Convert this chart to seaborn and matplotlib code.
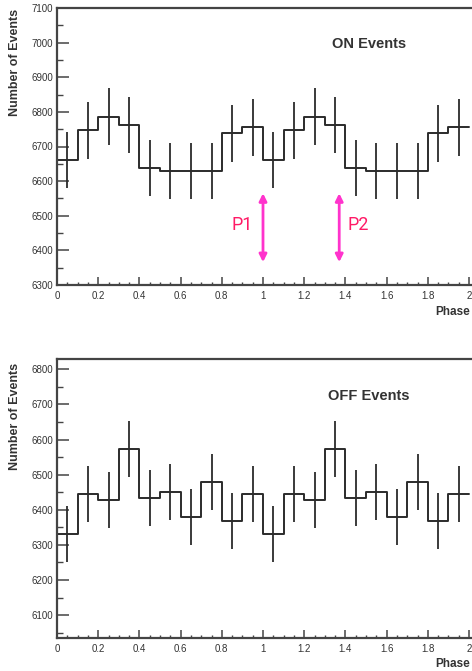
import numpy as np
import pandas as pd
import matplotlib
matplotlib.use("Agg")
import matplotlib.pyplot as plt
import seaborn as sns
from matplotlib.ticker import MultipleLocator, FormatStrFormatter, FuncFormatter

# ---- data ----
bin_edges = [round(0.1 * i, 1) for i in range(21)]
on_counts = [6661, 6747, 6786, 6762, 6637, 6630, 6630, 6630, 6738, 6755,
             6661, 6747, 6786, 6762, 6637, 6630, 6630, 6630, 6738, 6755]
on_errors = [81, 82, 82, 82, 81, 81, 81, 81, 82, 82,
             81, 82, 82, 82, 81, 81, 81, 81, 82, 82]
off_counts = [6331, 6444, 6428, 6573, 6434, 6450, 6380, 6480, 6368, 6444,
              6331, 6444, 6428, 6573, 6434, 6450, 6380, 6480, 6368, 6444]
off_errors = [80, 80, 80, 81, 80, 80, 80, 80, 80, 80,
              80, 80, 80, 81, 80, 80, 80, 80, 80, 80]
peak_phases = [1.0, 1.37]
peak_labels = ["P1", "P2"]
panel_titles = ["ON Events", "OFF Events"]
y_label = "Number of Events"
x_label = "Phase"

sns.set_style("ticks")
plt.rcParams['font.family'] = ['Liberation Sans', 'DejaVu Sans']

W, H = 472, 671
fig = plt.figure(figsize=(W / 100, H / 100), dpi=100)

def frac_axes(left, top, bottom, right):
    return fig.add_axes([left / W, 1 - bottom / H, (right - left) / W, (bottom - top) / H])

xmax = 2.03
right_px = 57 + xmax * 206
ax_on = frac_axes(57, 8, 285, right_px)
ax_off = frac_axes(57, 359.3, 638.3, right_px)

line_col = "#2b2b2b"
frame_col = "#444444"

def draw_panel(ax, counts, errors, ylim, title, title_xy):
    edges = np.array(bin_edges)
    centers = (edges[:-1] + edges[1:]) / 2
    df = pd.DataFrame({"phase": list(edges), "events": list(counts) + [counts[-1]]})
    sns.lineplot(data=df, x="phase", y="events", ax=ax, estimator=None,
                 drawstyle="steps-post", color=line_col, linewidth=1.4)
    c = np.array(counts)
    e = np.array(errors)
    ax.vlines(centers, c - e, c + e, color=line_col, linewidth=1.3)
    ax.set_xlim(0, xmax)
    ax.set_ylim(*ylim)
    ax.set_xlabel("")
    ax.set_ylabel("")
    ax.xaxis.set_major_locator(MultipleLocator(0.2))
    ax.xaxis.set_minor_locator(MultipleLocator(0.05))
    ax.xaxis.set_major_formatter(FuncFormatter(lambda v, p: f"{v:g}"))
    ax.yaxis.set_major_locator(MultipleLocator(100))
    ax.yaxis.set_minor_locator(MultipleLocator(50))
    ax.yaxis.set_major_formatter(FormatStrFormatter("%d"))
    ax.tick_params(axis="x", which="major", direction="in", length=5.5, width=1.1,
                   color=frame_col, labelsize=7, labelcolor="#333333", pad=4)
    ax.tick_params(axis="x", which="minor", direction="in", length=2.5, width=1.0,
                   color=frame_col)
    ax.tick_params(axis="y", which="major", direction="in", length=8.5, width=1.1,
                   color=frame_col, labelsize=7, labelcolor="#333333", pad=3)
    ax.tick_params(axis="y", which="minor", direction="in", length=4, width=1.0,
                   color=frame_col)
    for s in ["left", "bottom", "top"]:
        ax.spines[s].set_visible(True)
        ax.spines[s].set_color(frame_col)
        ax.spines[s].set_linewidth(1.6)
    ax.spines["right"].set_visible(False)
    fig.text(title_xy[0] / W, 1 - title_xy[1] / H, title, ha="center", va="center",
             fontsize=10.5, fontweight="bold", color="#333333")

draw_panel(ax_on, on_counts, on_errors, (6300, 7100), panel_titles[0], (369, 44.5))
draw_panel(ax_off, off_counts, off_errors, (6034, 6828.5), panel_titles[1], (369, 396))

# axis labels (ROOT style)
fig.text(15 / W, 1 - 9 / H, y_label, rotation=90, ha="center", va="top",
         fontsize=9, fontweight="bold", color="#333333")
fig.text(15 / W, 1 - 363 / H, y_label, rotation=90, ha="center", va="top",
         fontsize=9, fontweight="bold", color="#333333")
fig.text(470 / W, 1 - 312 / H, x_label, ha="right", va="center",
         fontsize=8.5, fontweight="bold", color="#333333")
fig.text(470 / W, 1 - 664 / H, x_label, ha="right", va="center",
         fontsize=8.5, fontweight="bold", color="#333333")

# peak annotations
arrow_col = "#ff33cc"
text_col = "#ff1a66"
for ph, lab in zip(peak_phases, peak_labels):
    ax_on.annotate("", xy=(ph, 6565), xytext=(ph, 6366),
                   arrowprops=dict(arrowstyle="<|-|>", color=arrow_col, lw=2,
                                   mutation_scale=11, shrinkA=0, shrinkB=0))
ax_on.text(peak_phases[0] - 0.05, 6473, peak_labels[0], ha="right", va="center",
           fontsize=13, color=text_col, family=["Roboto", "DejaVu Sans"])
ax_on.text(peak_phases[1] + 0.04, 6473, peak_labels[1], ha="left", va="center",
           fontsize=13, color=text_col, family=["Roboto", "DejaVu Sans"])

fig.savefig("out.png", dpi=100)
